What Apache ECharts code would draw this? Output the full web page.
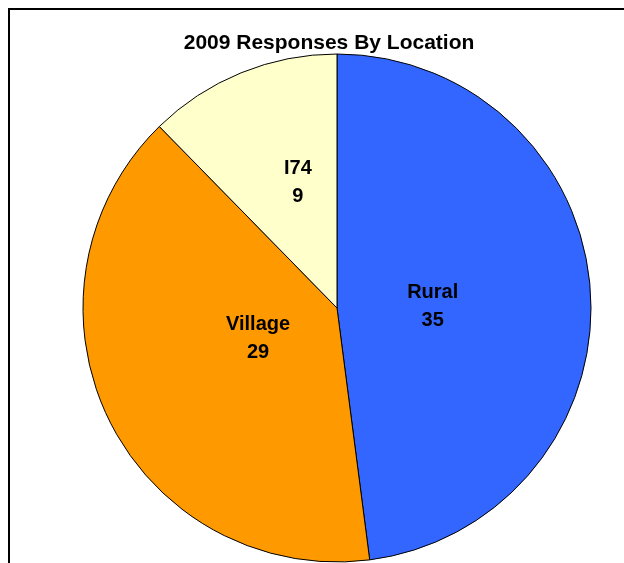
<!DOCTYPE html>
<html>
<head>
<meta charset="utf-8">
<script src="https://cdn.jsdelivr.net/npm/echarts@6/dist/echarts.min.js"></script>
<style>
  html, body { margin: 0; padding: 0; background: #fff; }
  #chart { width: 624px; height: 563px; }
</style>
</head>
<body>
<div id="chart"></div>
<script>
const categories = ["Rural", "Village", "I74"];
const values = [35, 29, 9];
const colors = ["#3366FF", "#FF9900", "#FFFFCC"];

// nudge labels to where the original sits them
const labelOffsets = { Rural: [-34, 7], Village: [38, -26], I74: [10, -5] };

const chart = echarts.init(document.getElementById("chart"));

const option = {
  backgroundColor: "#ffffff",
  animation: false,
  title: {
    text: "2009 Responses By Location",
    left: 324,
    textAlign: "center",
    top: 28,
    textStyle: {
      fontFamily: "Liberation Sans, Arial, sans-serif",
      fontSize: 21,
      fontWeight: "bold",
      color: "#000",
    },
  },
  graphic: [
    {
      type: "rect",
      shape: { x: 9, y: 9, width: 800, height: 800 },
      style: { fill: "none", stroke: "#000", lineWidth: 2 },
      silent: true,
    },
  ],
  series: [
    {
      type: "pie",
      center: [337, 308],
      radius: 254,
      startAngle: 90,
      clockwise: true,
      avoidLabelOverlap: false,
      itemStyle: { borderColor: "#000", borderWidth: 1 },
      label: {
        show: true,
        position: "inner",
        formatter: "{b}\n{c}",
        fontFamily: "Liberation Sans, Arial, sans-serif",
        fontSize: 20,
        fontWeight: "bold",
        color: "#000",
        lineHeight: 28,
      },
      labelLine: { show: false },
      emphasis: { disabled: true },
      data: categories.map((name, i) => ({
        name: name,
        value: values[i],
        itemStyle: { color: colors[i] },
        label: { offset: labelOffsets[name] },
      })),
    },
  ],
};

chart.setOption(option);
</script>
</body>
</html>
